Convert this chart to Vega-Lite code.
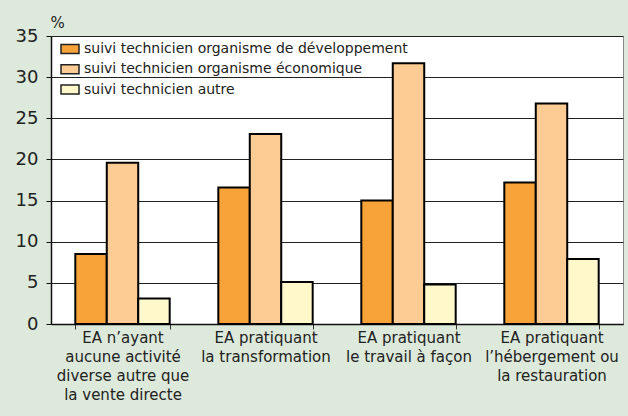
{
  "$schema": "https://vega.github.io/schema/vega-lite/v6.json",
  "width": 572,
  "height": 288,
  "autosize": {"type": "none"},
  "padding": {"left": 51, "top": 36, "right": 5, "bottom": 92},
  "background": "#dde9da",
  "config": {
    "font": "DejaVu Sans",
    "view": {"fill": "white", "stroke": "#8a8a8a", "strokeWidth": 1}
  },
  "data": {
    "values": [
      {"cat": "EA n’ayant|aucune activité|diverse autre que|la vente directe", "serie": "suivi technicien organisme de développement", "v": 8.5},
      {"cat": "EA n’ayant|aucune activité|diverse autre que|la vente directe", "serie": "suivi technicien organisme économique", "v": 19.6},
      {"cat": "EA n’ayant|aucune activité|diverse autre que|la vente directe", "serie": "suivi technicien autre", "v": 3.1},
      {"cat": "EA pratiquant|la transformation", "serie": "suivi technicien organisme de développement", "v": 16.6},
      {"cat": "EA pratiquant|la transformation", "serie": "suivi technicien organisme économique", "v": 23.1},
      {"cat": "EA pratiquant|la transformation", "serie": "suivi technicien autre", "v": 5.1},
      {"cat": "EA pratiquant|le travail à façon", "serie": "suivi technicien organisme de développement", "v": 15.0},
      {"cat": "EA pratiquant|le travail à façon", "serie": "suivi technicien organisme économique", "v": 31.7},
      {"cat": "EA pratiquant|le travail à façon", "serie": "suivi technicien autre", "v": 4.8},
      {"cat": "EA pratiquant|l’hébergement ou|la restauration", "serie": "suivi technicien organisme de développement", "v": 17.2},
      {"cat": "EA pratiquant|l’hébergement ou|la restauration", "serie": "suivi technicien organisme économique", "v": 26.8},
      {"cat": "EA pratiquant|l’hébergement ou|la restauration", "serie": "suivi technicien autre", "v": 7.9}
    ]
  },
  "mark": {"type": "bar", "stroke": "black", "strokeWidth": 2, "opacity": 1},
  "encoding": {
    "x": {
      "field": "cat",
      "type": "nominal",
      "sort": null,
      "scale": {"paddingInner": 0.34, "paddingOuter": 0.17},
      "axis": {
        "title": null,
        "labelAngle": 0,
        "labelExpr": "split(datum.label, '|')",
        "labelFontSize": 15,
        "labelLineHeight": 19.3,
        "labelColor": "#222222",
        "labelPadding": 1,
        "labelLimit": 0,
        "tickBand": "extent",
        "tickSize": 5,
        "tickColor": "#333333",
        "domainColor": "#111111",
        "domainWidth": 1.5
      }
    },
    "xOffset": {
      "field": "serie",
      "type": "nominal",
      "sort": ["suivi technicien organisme de développement", "suivi technicien organisme économique", "suivi technicien autre"],
      "scale": {"paddingInner": 0, "paddingOuter": 0}
    },
    "y": {
      "field": "v",
      "type": "quantitative",
      "scale": {"domain": [0, 35], "nice": false},
      "axis": {
        "values": [0, 5, 10, 15, 20, 25, 30, 35],
        "title": "%",
        "titleAngle": 0,
        "titleAlign": "left",
        "titleBaseline": "alphabetic",
        "titleX": -1,
        "titleY": -9,
        "titleFontSize": 15,
        "titleFontWeight": "normal",
        "titleColor": "#222222",
        "labelFontSize": 18,
        "labelColor": "#222222",
        "labelPadding": 8,
        "tickSize": 5,
        "tickColor": "#111111",
        "domainColor": "#111111",
        "domainWidth": 1.5,
        "grid": true,
        "gridColor": "#222222",
        "gridWidth": 1.2,
        "gridOpacity": 1
      }
    },
    "color": {
      "field": "serie",
      "type": "nominal",
      "scale": {
        "domain": ["suivi technicien organisme de développement", "suivi technicien organisme économique", "suivi technicien autre"],
        "range": ["#f8a23a", "#fdcb94", "#fff8cb"]
      },
      "legend": {
        "title": null,
        "orient": "none",
        "legendX": 9,
        "legendY": 3,
        "direction": "vertical",
        "padding": 0,
        "symbolType": "M-1,-0.5L1,-0.5L1,0.5L-1,0.5Z",
        "symbolSize": 324,
        "symbolStrokeColor": "#222222",
        "symbolStrokeWidth": 1.5,
        "symbolOpacity": 1,
        "labelFontSize": 14,
        "labelColor": "#222222",
        "labelOffset": 4,
        "labelLimit": 0,
        "rowPadding": 2.3
      }
    }
  }
}
